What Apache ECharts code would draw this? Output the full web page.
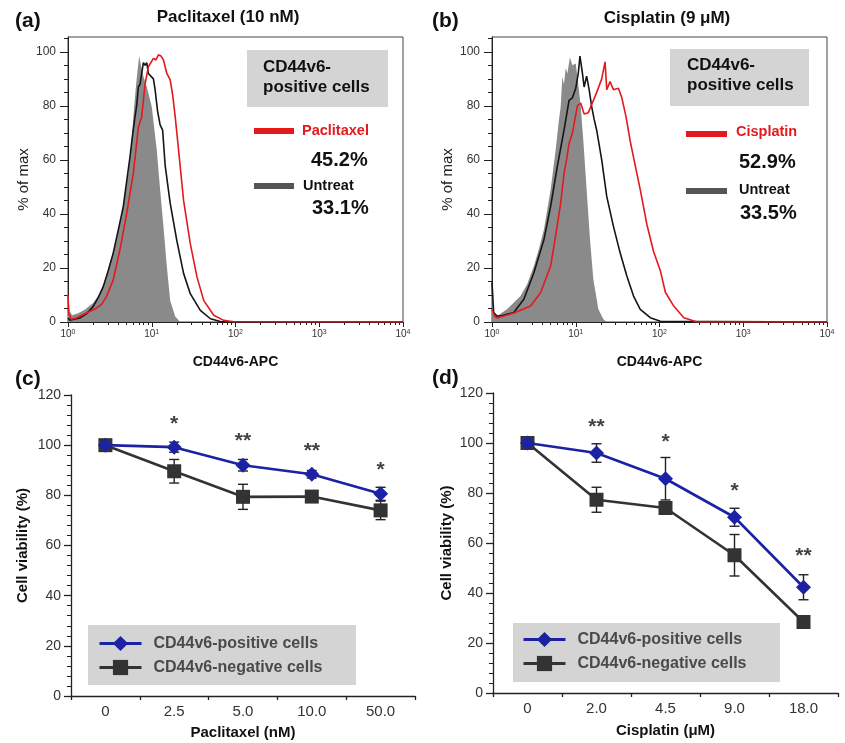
<!DOCTYPE html>
<html><head><meta charset="utf-8">
<script src="https://cdn.jsdelivr.net/npm/echarts@6.0.0/dist/echarts.min.js"></script>
<style>html,body{margin:0;padding:0;background:#fff}#c{width:845px;height:743px}</style>
</head><body><div id="c"></div>
<script>
// ---------- DATA ----------
// Histogram x positions are log10(CD44v6-APC intensity); y is % of max
const aGrayX  = [0.00,0.02,0.05,0.12,0.20,0.30,0.38,0.46,0.52,0.58,0.65,0.72,0.76,0.79,0.82,0.85,0.87,0.90,0.95,1.00,1.06,1.10,1.14,1.18,1.22,1.28,1.34,4.00];
const aGrayY  = [10,4,2.5,3.2,4.5,7,10.5,17,24,30.4,42,55,67,80,90,98.5,95,91,86,79.7,63.7,49,35.3,20.5,8,2,0,0];
const aBlackX = [0.00,0.02,0.14,0.22,0.30,0.36,0.42,0.48,0.54,0.60,0.66,0.70,0.74,0.77,0.80,0.82,0.84,0.86,0.88,0.90,0.92,0.94,0.96,0.98,1.02,1.04,1.07,1.10,1.13,1.16,1.22,1.30,1.38,1.46,1.58,1.70,1.82,1.90,4.00];
const aBlackY = [1.5,0.7,1.5,3,5.7,9,13,19,25.5,34,42.7,52,61,69,76,80,87,88,88,96,95,96,92,92.7,90,86,78,73,71,58,44,30,18,10.5,4.3,1.2,0.2,0,0];
const aRedX   = [0.00,0.01,0.04,0.10,0.22,0.34,0.40,0.46,0.54,0.62,0.70,0.78,0.84,0.86,0.88,0.92,0.96,1.02,1.05,1.08,1.11,1.14,1.18,1.22,1.25,1.28,1.32,1.38,1.46,1.54,1.62,1.74,1.86,1.98,4.00];
const aRedY   = [10,3,1,1.5,3.3,5.1,6.5,9.4,15.6,26.7,40,55,72,74,76,88,94.5,97.6,97,98.9,98.5,97,92,89.6,84,76,63.7,45,29,16.7,8,2.5,0.6,0.1,0];

const bGrayX  = [0.00,0.02,0.06,0.18,0.34,0.42,0.50,0.56,0.62,0.70,0.76,0.80,0.82,0.84,0.86,0.88,0.90,0.93,0.96,1.00,1.03,1.06,1.09,1.13,1.17,1.21,1.27,1.33,1.37,4.00];
const bGrayY  = [12,4,2.2,4.7,9.6,14,20.7,27,34.2,49,63.7,75,79.7,90.8,88,94,92,98,95,95.7,88,79.7,67.4,49,30.5,15.8,4.7,1,0,0];
const bBlackX = [0.00,0.02,0.06,0.10,0.26,0.38,0.50,0.62,0.70,0.78,0.86,0.92,0.96,1.00,1.03,1.05,1.08,1.10,1.13,1.16,1.19,1.22,1.25,1.31,1.37,1.45,1.53,1.61,1.69,1.77,1.89,2.01,4.00];
const bBlackY = [14.6,3.5,2.2,2.2,3.5,8.4,18.2,30.5,42.8,57.6,71,82,83,86.5,92,98.4,92,87,91,86,79.7,75,71,60,46.5,35.4,25.6,17,9.6,4.7,1.6,0.3,0];
const bRedX   = [0.00,0.03,0.06,0.26,0.46,0.58,0.70,0.76,0.82,0.86,0.89,0.92,0.96,1.02,1.06,1.10,1.15,1.21,1.25,1.31,1.35,1.37,1.41,1.45,1.51,1.55,1.60,1.65,1.71,1.77,1.85,1.93,2.01,2.07,2.17,2.29,2.45,4.00];
const bRedY   = [4.7,2.2,1.5,3.3,5.9,10.8,20.7,32,44,55,60,66,70,80,81,77,77.5,82,85,90,96.3,86,89,86,86.5,83,76,67,58,49,36,26,19,11,5.9,1.6,0,0];

// Histogram tick labels
const histXTicks = [0,1,2,3,4];
const histYTicks = [0,20,40,60,80,100];
const histYMinor = [5,10,15,25,30,35,45,50,55,65,70,75,85,90,95,105];

// Viability panels
const catsC   = ['0','2.5','5.0','10.0','50.0'];
const posC    = [100,99.2,92,88.4,80.6];
const posErrC = [0.8,2,2.3,1.5,2.6];
const negC    = [100,89.6,79.4,79.5,74];
const negErrC = [0.8,4.7,5,1,3.7];
const starC   = ['', '*', '**', '**', '*'];
const starYC  = [null,110.4,103.6,99.4,92.1];

const catsD   = ['0','2.0','4.5','9.0','18.0'];
const posD    = [100,96,85.7,70.3,42.3];
const posErrD = [0.8,3.7,8.5,3.6,5];
const negD    = [100,77.3,74,55.1,28.4];
const negErrD = [0.8,5,1.5,8.3,2];
const starD   = ['', '**', '*', '*', '**'];
const starYD  = [null,108.3,102.4,82.7,56.7];

// ---------- CHART ----------
const FONT = '"Liberation Sans", Arial, Helvetica, sans-serif';
const BLUE = '#1b22a3', DARK = '#333333', RED = '#e3191c';
const zip = (xs, ys) => xs.map((x, i) => [x, ys[i]]);
const minorX = [];
for (let d = 0; d < 4; d++) for (let k = 2; k <= 9; k++) minorX.push(d + Math.log10(k));

function histX(g) {
  return {type:'value', gridIndex:g, min:0, max:4, interval:1, position:'bottom',
    name:'CD44v6-APC', nameLocation:'middle', nameGap:33,
    nameTextStyle:{fontFamily:FONT, fontWeight:'bold', fontSize:14, color:'#111'},
    axisLine:{lineStyle:{color:'#222', width:1}},
    axisTick:{show:true, length:5, customValues:histXTicks, lineStyle:{color:'#222'}},
    splitLine:{show:false},
    axisLabel:{margin:7, customValues:histXTicks, formatter: v => '{b|10}{s|' + v + '}',
      rich:{b:{fontFamily:FONT, fontSize:10, color:'#333'}, s:{fontFamily:FONT, fontSize:7, color:'#333', verticalAlign:'top'}}}};
}
function histMinorX(g) {
  return {type:'value', gridIndex:g, min:0, max:4, position:'bottom',
    axisLine:{show:false}, axisLabel:{show:false}, splitLine:{show:false},
    axisTick:{show:true, length:3, customValues:minorX, lineStyle:{color:'#222'}}};
}
function histY(g, gap) {
  return {type:'value', gridIndex:g, min:0, max:105.5, position:'left',
    name:'% of max', nameLocation:'middle', nameGap:gap,
    nameTextStyle:{fontFamily:FONT, fontSize:15, color:'#222'},
    axisLine:{show:true, lineStyle:{color:'#222'}},
    axisTick:{show:true, length:8, customValues:histYTicks, lineStyle:{color:'#222'}},
    splitLine:{show:false},
    axisLabel:{margin:12, fontFamily:FONT, fontSize:12, color:'#333', customValues:histYTicks}};
}
function histMinorY(g) {
  return {type:'value', gridIndex:g, min:0, max:105.5, position:'left',
    axisLine:{show:false}, axisLabel:{show:false}, splitLine:{show:false},
    axisTick:{show:true, length:4, customValues:histYMinor, lineStyle:{color:'#222'}}};
}
function catX(g, cats, name, gap) {
  return {type:'category', gridIndex:g, data:cats, boundaryGap:true,
    name:name, nameLocation:'middle', nameGap:gap,
    nameTextStyle:{fontFamily:FONT, fontWeight:'bold', fontSize:15, color:'#111'},
    axisLine:{lineStyle:{color:'#222', width:1.3}},
    axisTick:{show:true, length:4, lineStyle:{color:'#222', width:1.3}},
    axisLabel:{margin:8, fontFamily:FONT, fontSize:15, color:'#333'}};
}
function viaY(g, gap) {
  return {type:'value', gridIndex:g, min:0, max:120, interval:20,
    name:'Cell viability (%)', nameLocation:'middle', nameGap:gap,
    nameTextStyle:{fontFamily:FONT, fontWeight:'bold', fontSize:15, color:'#111'},
    axisLine:{show:true, lineStyle:{color:'#222', width:1.3}},
    axisTick:{show:true, length:7, lineStyle:{color:'#222', width:1.3}},
    minorTick:{show:true, splitNumber:5, length:4, lineStyle:{color:'#222'}},
    splitLine:{show:false},
    axisLabel:{margin:10, fontFamily:FONT, fontSize:14, color:'#333'}};
}
function histSeries(xi, yi, xs, ys, kind) {
  const s = {type:'line', xAxisIndex:xi, yAxisIndex:yi, data:zip(xs, ys), symbol:'none', silent:true};
  if (kind === 'gray') { s.lineStyle = {width:0, color:'#8c8c8c'}; s.areaStyle = {color:'#8a8a8a', opacity:1}; s.z = 1; }
  if (kind === 'black') { s.lineStyle = {width:1.6, color:'#151515'}; s.z = 2; }
  if (kind === 'red') { s.lineStyle = {width:1.6, color:RED}; s.z = 3; }
  return s;
}
function lineSeries(xi, yi, name, vals, color, sym, size) {
  return {type:'line', name:name, xAxisIndex:xi, yAxisIndex:yi, data:vals, symbol:sym, symbolSize:size,
    lineStyle:{color:color, width:2.6}, itemStyle:{color:color}, z:3};
}
function errSeries(xi, yi, vals, errs) {
  return {type:'custom', xAxisIndex:xi, yAxisIndex:yi, z:2, silent:true,
    data: vals.map((v, i) => [i, v - errs[i], v + errs[i]]),
    renderItem: (p, api) => {
      const x = api.value(0);
      const lo = api.coord([x, api.value(1)]), hi = api.coord([x, api.value(2)]);
      const w = 5, st = {stroke:'#222', lineWidth:1.4};
      return {type:'group', children:[
        {type:'line', shape:{x1:lo[0], y1:lo[1], x2:hi[0], y2:hi[1]}, style:st},
        {type:'line', shape:{x1:hi[0]-w, y1:hi[1], x2:hi[0]+w, y2:hi[1]}, style:st},
        {type:'line', shape:{x1:lo[0]-w, y1:lo[1], x2:lo[0]+w, y2:lo[1]}, style:st}
      ]};
    }};
}
function starSeries(xi, yi, stars, ys) {
  const data = [];
  stars.forEach((s, i) => { if (s) data.push([i, ys[i], s]); });
  return {type:'scatter', xAxisIndex:xi, yAxisIndex:yi, data:data, symbolSize:1, silent:true,
    itemStyle:{color:'rgba(0,0,0,0)'},
    label:{show:true, position:'inside', offset:[0,5], formatter: p => p.value[2],
      fontFamily:FONT, fontWeight:'bold', fontSize:21, color:'#111'}};
}
function txt(x, y, text, font, fill, align) {
  return {type:'text', x:x, y:y, z:10, style:{text:text, font:font, fill:fill || '#111', align:align || 'left', verticalAlign:'middle'}};
}
const LEG = ['CD44v6-positive cells', 'CD44v6-negative cells'];
function legend(left, top) {
  return {left:left, top:top, orient:'vertical', itemWidth:42, itemHeight:19, itemGap:5, padding:0,
    selectedMode:false, data:LEG, lineStyle:{width:3},
    textStyle:{fontFamily:FONT, fontSize:16, fontWeight:'bold', color:'#4a4a4a', lineHeight:19, padding:[0,0,0,7]}};
}

const option = {
  animation:false,
  backgroundColor:'#ffffff',
  grid:[
    {left:68, top:37, width:335, height:285, show:true, borderColor:'#444', borderWidth:1},
    {left:492, top:37, width:335, height:285, show:true, borderColor:'#444', borderWidth:1},
    {left:71, top:395, width:344, height:301},
    {left:493, top:393, width:345, height:300}
  ],
  xAxis:[histX(0), histMinorX(0), histX(1), histMinorX(1),
    catX(2, catsC, 'Paclitaxel (nM)', 29), catX(3, catsD, 'Cisplatin (μM)', 30)],
  yAxis:[histY(0, 37), histMinorY(0), histY(1, 37), histMinorY(1), viaY(2, 41), viaY(3, 39)],
  legend:[legend(98, 634), legend(522, 630)],
  graphic:[
    txt(15, 21, '(a)', 'bold 21px ' + FONT),
    txt(432, 21, '(b)', 'bold 21px ' + FONT),
    txt(15, 379, '(c)', 'bold 21px ' + FONT),
    txt(432, 378, '(d)', 'bold 21px ' + FONT),
    txt(228, 17, 'Paclitaxel (10 nM)', 'bold 17px ' + FONT, '#111', 'center'),
    txt(667, 18, 'Cisplatin (9 μM)', 'bold 17px ' + FONT, '#111', 'center'),
    {type:'rect', shape:{x:247, y:50, width:141, height:57}, style:{fill:'#d4d4d4'}, z:5},
    txt(263, 67, 'CD44v6-', 'bold 17px ' + FONT),
    txt(263, 87, 'positive cells', 'bold 17px ' + FONT),
    {type:'rect', shape:{x:254, y:128, width:40, height:6}, style:{fill:RED}, z:5},
    txt(302, 131, 'Paclitaxel', 'bold 14.5px ' + FONT, RED),
    txt(311, 160, '45.2%', 'bold 20px ' + FONT),
    {type:'rect', shape:{x:254, y:183, width:40, height:6}, style:{fill:'#555555'}, z:5},
    txt(303, 186, 'Untreat', 'bold 14.5px ' + FONT),
    txt(312, 208, '33.1%', 'bold 20px ' + FONT),
    {type:'rect', shape:{x:670, y:49, width:139, height:57}, style:{fill:'#d4d4d4'}, z:5},
    txt(687, 65, 'CD44v6-', 'bold 17px ' + FONT),
    txt(687, 85, 'positive cells', 'bold 17px ' + FONT),
    {type:'rect', shape:{x:686, y:131, width:41, height:6}, style:{fill:RED}, z:5},
    txt(736, 132, 'Cisplatin', 'bold 14.5px ' + FONT, RED),
    txt(739, 162, '52.9%', 'bold 20px ' + FONT),
    {type:'rect', shape:{x:686, y:188, width:41, height:6}, style:{fill:'#555555'}, z:5},
    txt(739, 190, 'Untreat', 'bold 14.5px ' + FONT),
    txt(740, 213, '33.5%', 'bold 20px ' + FONT),
    {type:'rect', shape:{x:88, y:625, width:268, height:60}, style:{fill:'#d4d4d4'}, z:0},
    {type:'rect', shape:{x:513, y:623, width:267, height:59}, style:{fill:'#d4d4d4'}, z:0}
  ],
  series:[
    histSeries(0, 0, aGrayX, aGrayY, 'gray'),
    histSeries(0, 0, aBlackX, aBlackY, 'black'),
    histSeries(0, 0, aRedX, aRedY, 'red'),
    histSeries(2, 2, bGrayX, bGrayY, 'gray'),
    histSeries(2, 2, bBlackX, bBlackY, 'black'),
    histSeries(2, 2, bRedX, bRedY, 'red'),
    errSeries(4, 4, posC, posErrC),
    errSeries(4, 4, negC, negErrC),
    lineSeries(4, 4, LEG[1], negC, DARK, 'rect', 14),
    lineSeries(4, 4, LEG[0], posC, BLUE, 'diamond', 15),
    starSeries(4, 4, starC, starYC),
    errSeries(5, 5, posD, posErrD),
    errSeries(5, 5, negD, negErrD),
    lineSeries(5, 5, LEG[1], negD, DARK, 'rect', 14),
    lineSeries(5, 5, LEG[0], posD, BLUE, 'diamond', 15),
    starSeries(5, 5, starD, starYD)
  ]
};
const chart = echarts.init(document.getElementById('c'), null, {renderer:'canvas'});
chart.setOption(option);
</script>
</body></html>
